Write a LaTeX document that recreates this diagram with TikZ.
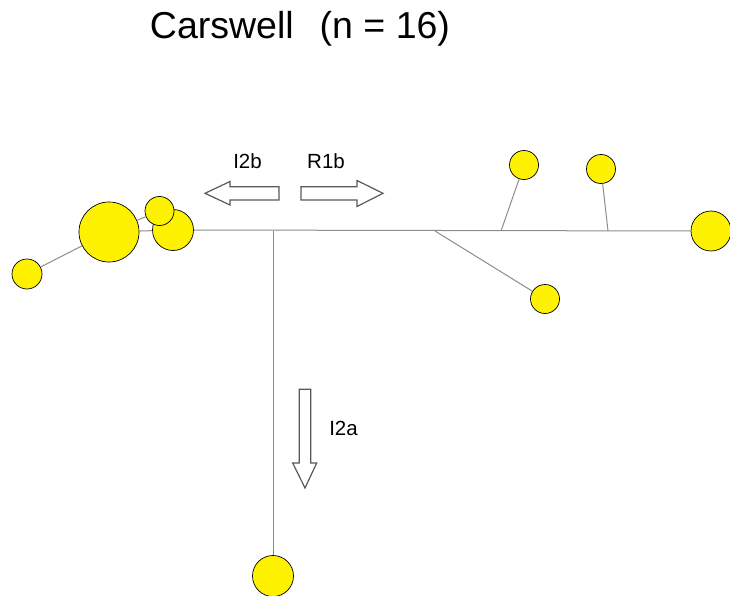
\documentclass[tikz,border=0pt]{standalone}
\usepackage{fontspec}
\setmainfont{Liberation Sans}
\begin{document}
\begin{tikzpicture}[x=1pt,y=-1pt,
  site/.style={circle,draw=black,line width=0.7pt,fill=yellow,inner sep=0pt,minimum size=#1},
  link/.style={draw=gray!90,line width=1pt},
  flow/.style={draw=black!65,line width=1.2pt,fill=white,line join=miter},
  lbl/.style={font=\fontsize{20.5}{24}\selectfont,inner sep=0pt}]
\useasboundingbox (0,0) rectangle (730,596);
% title
\node[font=\fontsize{37.5}{44}\selectfont,inner sep=0pt] (title) at (300,29) {Carswell\hspace{26pt}(n = 16)};
% sites
\node[site=30pt] (w1) at (27,274) {};
\node[site=60pt] (w2) at (109,232) {};
\node[site=41pt] (w3) at (173,230) {};
\node[site=29pt] (w4) at (159.5,211) {};
\node[site=41pt] (s1) at (273,576) {};
\node[site=29pt] (e1) at (545,299) {};
\node[site=29pt] (e2) at (524,165) {};
\node[site=29pt] (e3) at (601,169) {};
\node[site=40pt] (e4) at (711,231) {};
% junctions on the main stem
\coordinate (j1) at (273,231);
\coordinate (j2) at (435,231);
\coordinate (j3) at (501,231);
\coordinate (j4) at (608,231);
% stems
\draw[link] (w1) -- (w2);
\draw[link] (w2) -- (w3);
\draw[link] (w2) -- (w4);
\draw[link] (w3.east) -- (e4.west);
\draw[link] (j1) -- (s1);
\draw[link] (j2) -- (e1);
\draw[link] (j3) -- (e2);
\draw[link] (j4) -- (e3);
% direction arrows
\draw[flow] (205,193.3) -- (230,181.5) -- (230,186.7) -- (279,186.7) -- (279,200) -- (230,200) -- (230,205) -- cycle;
\draw[flow] (383,193.3) -- (357,180.5) -- (357,186.7) -- (301,186.7) -- (301,200) -- (357,200) -- (357,206.5) -- cycle;
\draw[flow] (305,488) -- (292.7,463) -- (299.3,463) -- (299.3,389.3) -- (310.7,389.3) -- (310.7,463) -- (316.7,463) -- cycle;
\node[lbl] (l2b) at (247.5,161) {I2b};
\node[lbl] (r1b) at (326,161) {R1b};
\node[lbl] (l2a) at (343.5,428) {I2a};
\end{tikzpicture}
\end{document}
